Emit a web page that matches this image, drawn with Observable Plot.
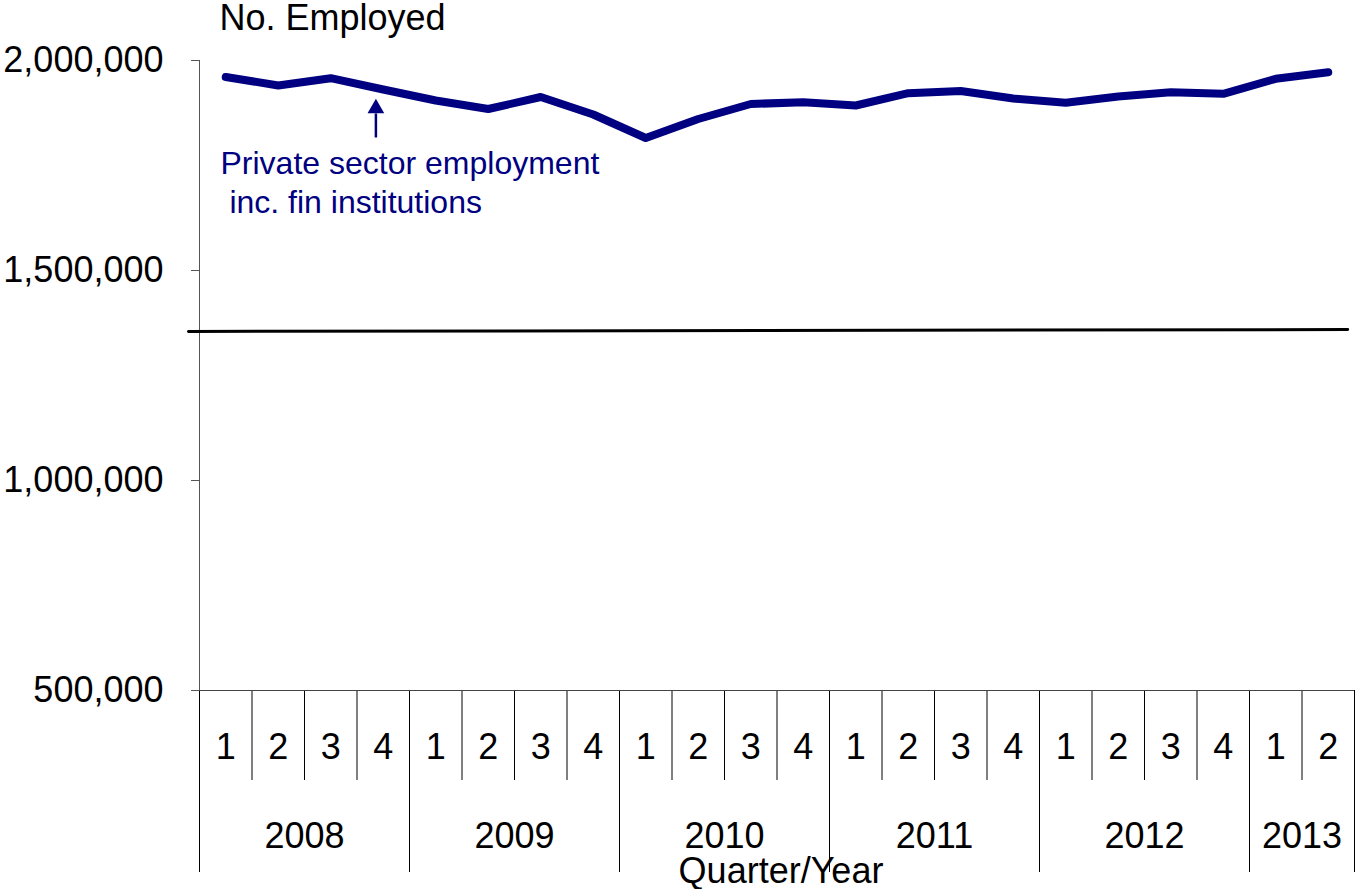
<!DOCTYPE html>
<html><head><meta charset="utf-8">
<script src="https://cdn.jsdelivr.net/npm/d3@7"></script>
<script src="https://cdn.jsdelivr.net/npm/@observablehq/plot@0.6"></script>
<style>
body{margin:0;background:#fff;}
svg text{white-space:pre;}
</style></head><body><div id="chart"></div>
<script>
// ---- data ----
const years = ["2008","2009","2010","2011","2012","2013"];
const quarterYears = ["2008","2008","2008","2008","2009","2009","2009","2009","2010","2010","2010","2010","2011","2011","2011","2011","2012","2012","2012","2012","2013","2013"];
const quarterLabels = ["1","2","3","4","1","2","3","4","1","2","3","4","1","2","3","4","1","2","3","4","1","2"];
const employment = [1960700,1940500,1957900,1931000,1904800,1884500,1913100,1871400,1815500,1860700,1896400,1900700,1892900,1922100,1927400,1909500,1899300,1914300,1924500,1920700,1956400,1972100];
const yTicks = [500000,1000000,1500000,2000000];
const referenceLineValues = [1354800,1359500];
const seriesLabel = "Private sector employment\n inc. fin institutions";
const yTitle = "No. Employed";
const xTitle = "Quarter/Year";

// ---- annotation placement (in quarter units / value units) ----
const refLineX = [-0.21, 21.87];
const arrowX = 3.36, arrowTail = 1816700, arrowBase = 1873800, arrowHead = 1885700;
const labelX = 0.4, labelY = 1712000;

const rows = employment.map((v,i)=>({i, mid:i+0.5, q:quarterLabels[i], year:quarterYears[i], value:v}));
const n = rows.length;
const boundaries = d3.range(0, n+1);
const yearBounds = boundaries.filter(b => b===0 || b===n || quarterYears[b] !== quarterYears[b-1]);
const quarterBounds = boundaries.filter(b => !yearBounds.includes(b));
const yearCenters = years.map(y => {
  const idx = rows.filter(r => r.year === y).map(r => r.i);
  return {year:y, x:(d3.min(idx) + d3.max(idx) + 1)/2};
});
const refLine = refLineX.map((x,k)=>({x, value:referenceLineValues[k]}));
const navy = "#000080";

const chart = Plot.plot({
  width:1356, height:889,
  marginLeft:199, marginRight:2, marginTop:60, marginBottom:199,
  style:{fontFamily:"'Liberation Sans', Arial, sans-serif", fontSize:"36px", color:"#000", background:"#fff"},
  x:{type:"linear", domain:[0,n]},
  y:{domain:[500000,2000000]},
  marks:[
    Plot.axisY({ticks:yTicks, tickSize:8, tickPadding:28, tickFormat:d3.format(","), label:null, fontSize:36, stroke:"#555"}),
    Plot.axisX({ticks:quarterBounds, tickSize:90, tickFormat:()=>"", label:null}),
    Plot.axisX({ticks:yearBounds, tickSize:182, tickFormat:()=>"", label:null}),
    Plot.ruleX([0], {stroke:"#555"}),
    Plot.ruleY([500000], {stroke:"#444"}),
    Plot.text(rows, {x:"mid", text:"q", frameAnchor:"bottom", lineAnchor:"middle", dy:57, fontSize:36}),
    Plot.text(yearCenters, {x:"x", text:"year", frameAnchor:"bottom", lineAnchor:"middle", dy:146, fontSize:36}),
    Plot.text([xTitle], {frameAnchor:"bottom", lineAnchor:"middle", dx:4, dy:181, fontSize:36}),
    Plot.text([yTitle], {frameAnchor:"top-left", lineAnchor:"middle", dx:20, dy:-42, textAnchor:"start", fontSize:36}),
    Plot.line(refLine, {x:"x", y:"value", stroke:"#000", strokeWidth:3}),
    Plot.line(rows, {x:"mid", y:"value", stroke:navy, strokeWidth:8, strokeLinecap:"round", strokeLinejoin:"round"}),
    Plot.link([0], {x1:()=>arrowX, x2:()=>arrowX, y1:()=>arrowTail, y2:()=>arrowBase, stroke:navy, strokeWidth:2.5}),
    Plot.dot([0], {x:()=>arrowX, y:()=>arrowHead, symbol:"triangle", r:6.2, fill:navy, stroke:"none"}),
    Plot.text([seriesLabel], {x:()=>labelX, y:()=>labelY, textAnchor:"start", lineHeight:1.22, fontSize:32, fill:navy})
  ]
});
document.getElementById("chart").append(chart);
</script></body></html>
